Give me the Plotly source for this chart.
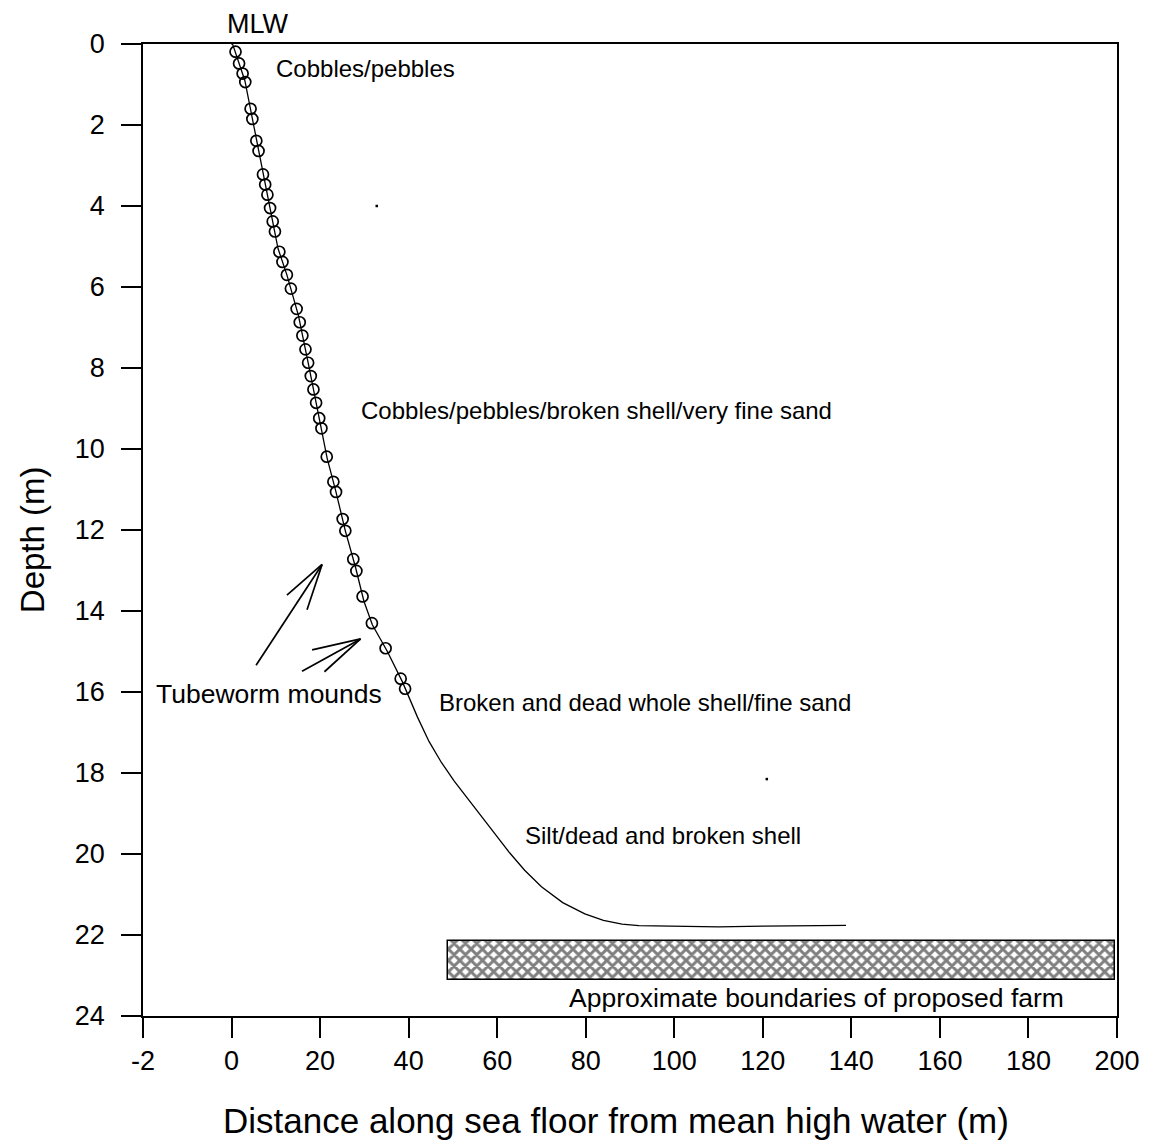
import plotly.graph_objects as go

# ---- data ----
profile_x = [0, 0.3, 3.0, 4.9, 6.8, 8.7, 10.5, 12.5, 15.1, 17.3, 19.6, 21.6, 23.5, 25.7, 28.0,
             29.9, 31.8, 35.2, 38.6, 42.0, 44.6, 47.4, 50.3, 53.4, 56.8, 60.2, 62.8, 66.2, 70.0,
             74.8, 79.8, 84.0, 88.2, 92.0, 100, 110, 120, 130, 138.8]
profile_depth = [0, 0.02, 0.9, 1.97, 3.05, 4.05, 5.05, 5.7, 6.7, 7.87, 9.11, 10.23, 11.02, 12.02,
                 12.92, 13.76, 14.34, 15.0, 15.75, 16.62, 17.22, 17.74, 18.2, 18.65, 19.12, 19.6,
                 19.97, 20.4, 20.81, 21.2, 21.48, 21.64, 21.73, 21.77, 21.78, 21.8, 21.78, 21.77,
                 21.76]

cobble_x = [0.9, 1.7, 2.5, 3.1, 4.3, 4.7, 5.6, 6.1, 7.1, 7.6, 8.1, 8.7, 9.3, 9.8, 10.8, 11.5,
            12.5, 13.4, 14.7, 15.4, 16.0, 16.7, 17.3, 17.9, 18.5, 19.1, 19.8, 20.3, 21.5, 23.0,
            23.6, 25.1, 25.7, 27.5, 28.2, 29.6, 31.7, 34.8, 38.2, 39.2]
cobble_depth = [0.19, 0.48, 0.73, 0.94, 1.60, 1.85, 2.39, 2.64, 3.22, 3.47, 3.72, 4.05, 4.38, 4.63,
                5.13, 5.38, 5.70, 6.04, 6.54, 6.87, 7.2, 7.54, 7.87, 8.2, 8.53, 8.86, 9.24, 9.49,
                10.19, 10.81, 11.06, 11.73, 12.02, 12.72, 13.01, 13.64, 14.3, 14.92, 15.67, 15.92]

speck_x = [32.8, 120.9]
speck_depth = [4.0, 18.15]

farm_start = 49.0
farm_end = 199.5
farm_top = 22.15
farm_bottom = 23.1

x_tickvals = [-20, 0, 20, 40, 60, 80, 100, 120, 140, 160, 180, 200]
x_ticktext = ["-2", "0", "20", "40", "60", "80", "100", "120", "140", "160", "180", "200"]
y_tickvals = [0, 2, 4, 6, 8, 10, 12, 14, 16, 18, 20, 22, 24]

labels = [
    ("Cobbles/pebbles", 30.3, 0.6, 24),
    ("Cobbles/pebbles/broken shell/very fine sand", 82.5, 9.04, 24),
    ("Tubeworm mounds", 8.5, 16.06, 26.5),
    ("Broken and dead whole shell/fine sand", 93.3, 16.26, 24),
    ("Silt/dead and broken shell", 97.5, 19.54, 24),
    ("Approximate boundaries of proposed farm", 132.2, 23.55, 26.5),
]

# arrow segments (x0, y0, x1, y1)
arrow_segments = [
    (5.54, 15.34, 20.45, 12.85),
    (12.51, 13.61, 20.45, 12.85),
    (17.05, 13.97, 20.45, 12.85),
    (15.92, 15.49, 29.15, 14.69),
    (18.19, 14.96, 29.15, 14.69),
    (20.98, 15.50, 29.15, 14.69),
]

FONT = "Liberation Sans, Arial, sans-serif"

fig = go.Figure()

fig.add_trace(go.Bar(
    x=[farm_end - farm_start], base=[farm_start], y=[(farm_top + farm_bottom) / 2],
    width=[farm_bottom - farm_top], orientation="h",
    marker=dict(color="white", line=dict(color="black", width=1.5),
                pattern=dict(shape="x", fgcolor="black", bgcolor="white", size=8, solidity=0.6)),
    showlegend=False, hoverinfo="skip"))

fig.add_trace(go.Scatter(
    x=profile_x, y=profile_depth, mode="lines",
    line=dict(color="black", width=1.3), showlegend=False))

fig.add_trace(go.Scatter(
    x=cobble_x, y=cobble_depth, mode="markers",
    marker=dict(symbol="circle-open", size=11, color="black", line=dict(width=1.7)),
    showlegend=False))

fig.add_trace(go.Scatter(
    x=speck_x, y=speck_depth, mode="markers",
    marker=dict(symbol="square", size=2.5, color="black"), showlegend=False))

for x0, y0, x1, y1 in arrow_segments:
    fig.add_shape(type="line", x0=x0, y0=y0, x1=x1, y1=y1, xref="x", yref="y",
                  line=dict(color="black", width=1.7))

for text, x, y, size in labels:
    fig.add_annotation(x=x, y=y, xref="x", yref="y", text=text, showarrow=False,
                       xanchor="center", yanchor="middle",
                       font=dict(family=FONT, size=size, color="black"))

fig.add_annotation(x=6.0, y=1.0205, xref="x", yref="paper", text="MLW", showarrow=False,
                   xanchor="center", yanchor="middle", font=dict(family=FONT, size=27, color="black"))

fig.add_annotation(x=0.486, y=-0.108, xref="paper", yref="paper",
                   text="Distance along sea floor from mean high water (m)", showarrow=False,
                   xanchor="center", yanchor="middle", font=dict(family=FONT, size=35, color="black"))
fig.add_annotation(x=-0.1135, y=0.49, xref="paper", yref="paper", text="Depth (m)", textangle=-90,
                   showarrow=False, xanchor="center", yanchor="middle",
                   font=dict(family=FONT, size=33, color="black"))

fig.update_xaxes(range=[-20, 200], tickvals=x_tickvals, ticktext=x_ticktext,
                 showgrid=False, zeroline=False, showline=True, linecolor="black", linewidth=1.5,
                 mirror=True, ticks="outside", ticklen=20, tickwidth=1.5, tickcolor="black",
                 ticklabelstandoff=0,
                 tickfont=dict(family=FONT, size=27, color="black"))
fig.update_yaxes(range=[24, 0], tickvals=y_tickvals,
                 showgrid=False, zeroline=False, showline=True, linecolor="black", linewidth=1.5,
                 mirror=True, ticks="outside", ticklen=20, tickwidth=1.5, tickcolor="black",
                 ticklabelstandoff=11,
                 tickfont=dict(family=FONT, size=27, color="black"))

# page body adds an 8px offset, so the figure is 8px smaller and margins shifted
fig.update_layout(
    width=1144, height=1139,
    margin=dict(l=135, r=32, t=36, b=131),
    plot_bgcolor="white", paper_bgcolor="white",
    bargap=0, showlegend=False,
)

fig.write_html("out.html")
